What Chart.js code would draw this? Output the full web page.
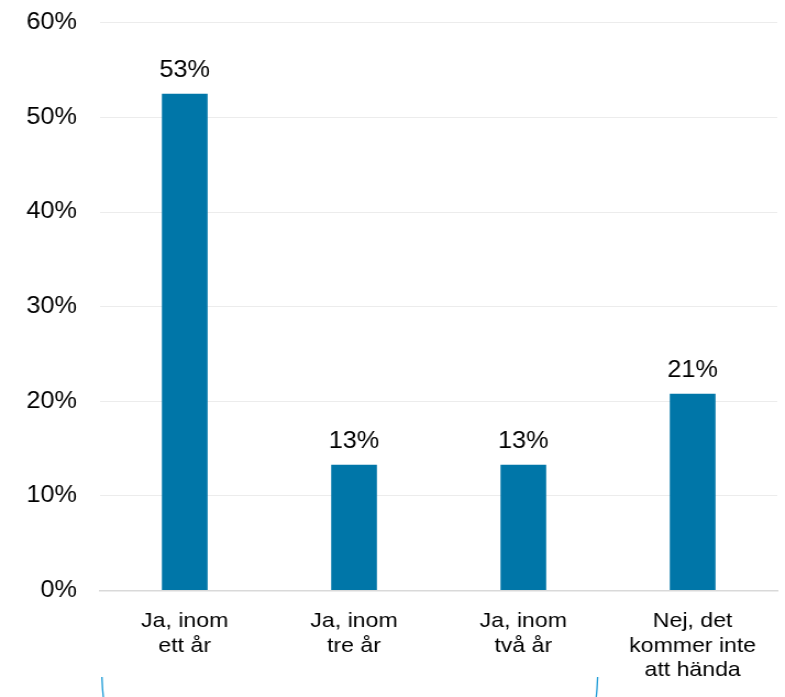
<!DOCTYPE html>
<html>
<head>
<meta charset="utf-8">
<script src="https://cdn.jsdelivr.net/npm/chart.js@4"></script>
<style>
  html, body { margin: 0; padding: 0; background: #fff; overflow: hidden; }
  /* the reference picture is slightly stretched sideways, so stretch the whole chart */
  #wrap { width: 714px; height: 713px; margin-top: -12px; transform: scaleX(1.0994); transform-origin: 0 0; }
</style>
</head>
<body>
<div id="wrap"><canvas id="bar-chart"></canvas></div>
<script>
const categories = [
    ["Ja, inom", "ett år"],
    ["Ja, inom", "tre år"],
    ["Ja, inom", "två år"],
    ["Nej, det", "kommer inte", "att hända"]
];
const shares = [0.525, 0.133, 0.133, 0.208];
const shareLabels = ["53%", "13%", "13%", "21%"];

Chart.defaults.font.family = "'Liberation Sans', Arial, sans-serif";
Chart.defaults.color = "#000";

// value labels above each bar
const barLabels = {
    id: 'barLabels',
    afterDatasetsDraw(chart) {
        const ctx = chart.ctx;
        const meta = chart.getDatasetMeta(0);
        ctx.save();
        ctx.font = "23px 'Liberation Sans', Arial, sans-serif";
        ctx.fillStyle = "#000";
        ctx.textAlign = "center";
        ctx.textBaseline = "alphabetic";
        meta.data.forEach((bar, i) => {
            ctx.fillText(shareLabels[i], bar.x, bar.y - 17);
        });
        ctx.restore();
    }
};

// cut-off bracket edges under the axis
const bracket = {
    id: 'bracket',
    afterDraw(chart) {
        const ctx = chart.ctx;
        ctx.save();
        ctx.strokeStyle = "#1a9ad6";
        ctx.lineWidth = 1.3;
        ctx.beginPath();
        ctx.moveTo(92.7, 689);
        ctx.quadraticCurveTo(93.1, 702, 94.3, 713);
        ctx.moveTo(543.6, 689);
        ctx.quadraticCurveTo(543.2, 702, 542, 713);
        ctx.stroke();
        ctx.restore();
    }
};

new Chart(document.getElementById("bar-chart"), {
    type: 'bar',
    data: {
        labels: categories,
        datasets: [
            {
                data: shares,
                backgroundColor: "#0076a8",
                barPercentage: 0.27,
                categoryPercentage: 1.0
            }
        ]
    },
    options: {
        maintainAspectRatio: false,
        responsive: true,
        animation: false,
        layout: { padding: { top: 0, right: 7, bottom: 0, left: 3 } },
        plugins: {
            legend: { display: false },
            tooltip: { enabled: false }
        },
        scales: {
            x: {
                grid: { display: false, drawTicks: false },
                border: { color: "#d9d9d9", width: 1.5 },
                ticks: {
                    font: { size: 21, lineHeight: 1.15 },
                    color: "#000",
                    padding: 19,
                    maxRotation: 0
                }
            },
            y: {
                min: 0,
                max: 0.6,
                grid: {
                    color: "#ececec",
                    drawTicks: false
                },
                border: { display: false },
                ticks: {
                    stepSize: 0.1,
                    padding: 21,
                    font: { size: 23 },
                    color: "#000",
                    callback: v => Math.round(v * 100) + "%"
                }
            }
        }
    },
    plugins: [barLabels, bracket]
});
</script>
</body>
</html>
